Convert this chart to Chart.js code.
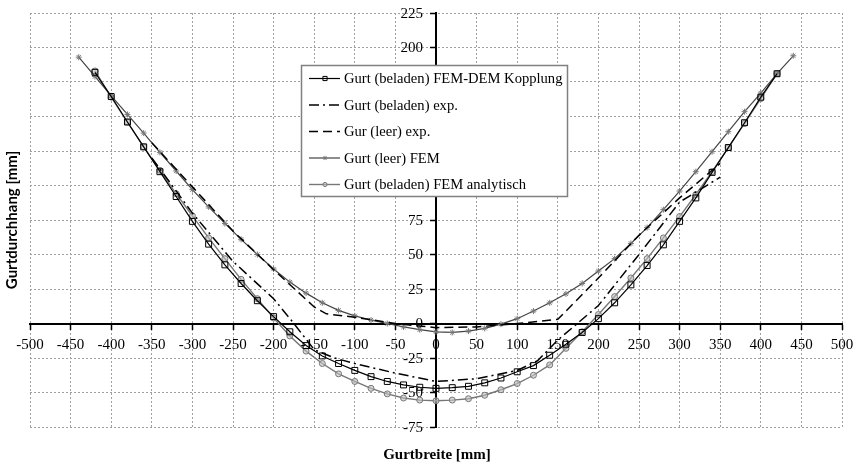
<!DOCTYPE html>
<html>
<head>
<meta charset="utf-8">
<script src="https://cdn.jsdelivr.net/npm/chart.js@4.4.0/dist/chart.umd.min.js"></script>
<style>
  html, body { margin: 0; padding: 0; background: #ffffff; }
  #wrap { width: 858px; height: 468px; }
</style>
</head>
<body>
<div id="wrap"><canvas id="chart" width="858" height="468"></canvas></div>
<script>
// Belt sag across the belt width, measured and simulated.
const seriesNames = [
  'Gurt (beladen) FEM-DEM Kopplung',
  'Gurt (beladen) exp.',
  'Gur (leer) exp.',
  'Gurt (leer) FEM',
  'Gurt (beladen) FEM analytisch'
];

// FEM nodes of the loaded belt (mm)
const femX = [-420,-400,-380,-360,-340,-320,-300,-280,-260,-240,-220,-200,-180,-160,-140,-120,-100,-80,-60,-40,-20,0,
              20,40,60,80,100,120,140,160,180,200,220,240,260,280,300,320,340,360,380,400,420];
const femDemY = [182,164.5,146,128,110,92,74,57.5,42.5,29,16.5,5,-6,-16,-23.5,-29,-34,-38.5,-42,-44.5,-46.2,-47,
                 -46.5,-45.5,-43,-39.5,-35,-30.5,-23,-15,-6.5,3.5,15,28,42,57,74,91,109.5,127.5,145.5,164,181];
const analyticY = [183,164,146,128,111,94,78,62,47,32,18,4,-9,-20,-29,-36.5,-42,-47,-51,-54,-55.5,-56,
                   -55.5,-54.5,-52,-48,-43.5,-37.5,-30,-18,-6,6.5,19.5,33,47,62,77.5,93.5,110,127.5,145,163,181];

// FEM nodes of the empty belt (mm)
const emptyFemX = [-440,-420,-400,-380,-360,-340,-320,-300,-280,-260,-240,-220,-200,-180,-160,-140,-120,-100,-80,-60,-40,-20,0,
                   20,40,60,80,100,120,140,160,180,200,220,240,260,280,300,320,340,360,380,400,420,440];
const emptyFemY = [193,179,165,151.5,138,124,110.5,97,84.5,72.5,61,50,39.5,30,22,15,9.5,5.5,2.5,0,-2.5,-4.5,-6,
                   -6.5,-5.5,-3.5,-0.5,3.5,9,15,21.5,29,38,47,58,69.5,82.5,96,110,124.5,139,153.5,167,181,194];

// Measurements
const loadedExpX = [-350,-300,-250,-200,-175,-150,-125,-100,-50,0,50,100,125,150,200,250,300,350];
const loadedExpY = [120,80,45,18,0,-19,-25,-29,-36,-42,-40,-34,-27,-12,13,50,88,106];
const emptyExpX = [-350,-300,-250,-200,-150,-135,-100,-50,0,50,100,150,200,250,300,350];
const emptyExpY = [131,99,67,39,12,7,4.5,0,-3,-2.5,0,3,33,64,91,116];

// Axis ranges
const xMin = -500, xMax = 500, xStep = 50;
const yMin = -75, yMax = 225, yStep = 25;

const xTitle = 'Gurtbreite [mm]';
const yTitle = 'Gurtdurchhang [mm]';

const pts = (xs, ys) => xs.map((x, i) => ({ x: x, y: ys[i] }));

const serif = '"Liberation Serif", "Times New Roman", serif';
const sans = 'Lato, "Liberation Sans", sans-serif';

const datasets = [
  { label: seriesNames[0], data: pts(femX, femDemY), borderColor: '#000', borderWidth: 1.2,
    pointStyle: 'rect', pointRadius: 4.2, pointBorderColor: '#000', pointBorderWidth: 1,
    pointBackgroundColor: 'rgba(255,255,255,0)' },
  { label: seriesNames[1], data: pts(loadedExpX, loadedExpY), borderColor: '#000', borderWidth: 1.5,
    borderDash: [10, 4, 2, 4], pointRadius: 0 },
  { label: seriesNames[2], data: pts(emptyExpX, emptyExpY), borderColor: '#000', borderWidth: 1.5,
    borderDash: [9, 5], pointRadius: 0 },
  { label: seriesNames[3], data: pts(emptyFemX, emptyFemY), borderColor: '#444', borderWidth: 1.2,
    pointStyle: 'star', pointRadius: 3, pointBorderColor: '#777', pointBorderWidth: 1 },
  { label: seriesNames[4], data: pts(femX, analyticY), borderColor: '#777', borderWidth: 1.4,
    pointStyle: 'circle', pointRadius: 3, pointBorderColor: '#777', pointBorderWidth: 1,
    pointBackgroundColor: 'rgba(190,190,190,0.6)' }
];

// Tick values of both crossing axes, written beside the axis lines
const axisTickLabels = {
  id: 'axisTickLabels',
  beforeDatasetsDraw(chart) {
    const ctx = chart.ctx;
    const xs = chart.scales.x;
    const ys = chart.scales.y;
    const axisX = xs.getPixelForValue(0);
    const axisY = ys.getPixelForValue(0);
    ctx.save();
    ctx.fillStyle = '#000';
    ctx.font = '15px ' + serif;
    ctx.textBaseline = 'middle';
    ctx.textAlign = 'right';
    ys.ticks.forEach(t => {
      ctx.fillText(String(t.value), axisX - 13, ys.getPixelForValue(t.value) + 1);
    });
    ctx.textAlign = 'center';
    xs.ticks.forEach(t => {
      ctx.fillText(String(t.value), xs.getPixelForValue(t.value), axisY + 22);
    });
    ctx.restore();
  }
};

// Boxed legend drawn inside the plot area
const boxLegend = {
  id: 'boxLegend',
  afterDraw(chart) {
    const ctx = chart.ctx;
    const left = 301.5, top = 65.5, w = 266, h = 131;
    ctx.save();
    ctx.fillStyle = '#fff';
    ctx.fillRect(left, top, w, h);
    ctx.strokeStyle = '#808080';
    ctx.lineWidth = 1.5;
    ctx.strokeRect(left, top, w, h);
    ctx.font = '14.6px ' + serif;
    ctx.textBaseline = 'middle';
    ctx.textAlign = 'left';
    chart.data.datasets.forEach((ds, i) => {
      const y = 78.5 + i * 26.5;
      ctx.save();
      ctx.strokeStyle = ds.borderColor;
      ctx.lineWidth = ds.borderWidth;
      ctx.setLineDash(ds.borderDash || []);
      ctx.beginPath();
      ctx.moveTo(309, y);
      ctx.lineTo(340, y);
      ctx.stroke();
      ctx.restore();
      if (ds.pointRadius > 0) {
        ctx.save();
        ctx.strokeStyle = ds.pointBorderColor;
        ctx.fillStyle = ds.pointBackgroundColor || ds.pointBorderColor;
        ctx.lineWidth = ds.pointBorderWidth;
        Chart.helpers.drawPoint(ctx, { pointStyle: ds.pointStyle, radius: ds.pointRadius * 0.7, rotation: 0, borderWidth: 1 }, 325, y);
        ctx.restore();
      }
      ctx.fillStyle = '#000';
      ctx.fillText(ds.label, 344, y + 1);
    });
    ctx.restore();
  }
};

// Axis titles at the outer edges of the figure
const axisTitles = {
  id: 'axisTitles',
  afterDraw(chart) {
    const ctx = chart.ctx;
    const area = chart.chartArea;
    ctx.save();
    ctx.fillStyle = '#000';
    ctx.textAlign = 'center';
    ctx.textBaseline = 'middle';
    ctx.font = 'bold 15px ' + serif;
    ctx.fillText(xTitle, 437, 455);
    ctx.translate(12, (area.top + area.bottom) / 2);
    ctx.rotate(-Math.PI / 2);
    ctx.font = 'bold 15px ' + sans;
    ctx.fillText(yTitle, 0, 0);
    ctx.restore();
  }
};

const gridStyle = { color: '#a0a0a0', lineWidth: 1, tickColor: '#000', tickBorderDash: [], tickWidth: 1.5, tickLength: 5 };
const axisBorder = { display: true, color: '#000', width: 2, dash: [2, 2] };
// the scales keep their label metrics for sizing; the visible labels come from axisTickLabels
const hiddenTicks = { color: 'rgba(0,0,0,0)', font: { family: serif, size: 15 }, padding: 4, maxRotation: 0, autoSkip: false };

new Chart(document.getElementById('chart'), {
  type: 'line',
  data: { datasets: datasets },
  options: {
    responsive: false,
    animation: false,
    devicePixelRatio: 1,
    layout: { padding: { left: 30, right: 16, top: 10, bottom: 41 } },
    elements: { line: { tension: 0 } },
    plugins: { legend: { display: false }, tooltip: { enabled: false } },
    scales: {
      x: {
        type: 'linear',
        position: { y: 0 },
        min: xMin, max: xMax,
        ticks: Object.assign({ stepSize: xStep }, hiddenTicks),
        grid: gridStyle,
        border: axisBorder
      },
      y: {
        type: 'linear',
        position: { x: 0 },
        min: yMin, max: yMax,
        ticks: Object.assign({ stepSize: yStep }, hiddenTicks),
        grid: gridStyle,
        border: axisBorder
      }
    }
  },
  plugins: [axisTickLabels, boxLegend, axisTitles]
});
</script>
</body>
</html>
